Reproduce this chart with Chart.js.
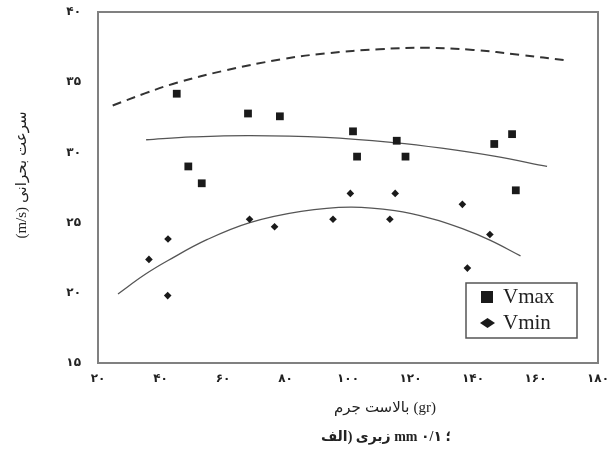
<!DOCTYPE html>
<html><head><meta charset="utf-8">
<script src="https://cdn.jsdelivr.net/npm/chart.js@4/dist/chart.umd.min.js"></script>
<style>html,body{margin:0;padding:0;background:#fff}#wrap{width:613px;height:452px}</style>
</head><body><div id="wrap"><canvas id="c" width="613" height="452"></canvas></div>
<script>
// measured points
const vmaxX = [45.2, 48.9, 53.2, 68.0, 78.2, 101.6, 102.9, 115.6, 118.4, 146.8, 152.5, 153.7];
const vmaxY = [34.18, 29.0, 27.8, 32.77, 32.57, 31.5, 29.7, 30.83, 29.7, 30.6, 31.3, 27.3];
const vminX = [36.3, 42.4, 42.3, 68.5, 76.5, 95.2, 100.75, 113.4, 115.1, 136.6, 138.2, 145.4];
const vminY = [22.38, 23.83, 19.8, 25.24, 24.7, 25.24, 27.08, 25.24, 27.08, 26.3, 21.76, 24.15];
// curves
const upperX = [24.7, 35, 45.2, 60, 78.6, 92.8, 110, 125, 140, 155, 170];
const upperY = [33.34, 34.2, 34.96, 35.8, 36.63, 37.05, 37.35, 37.45, 37.3, 36.95, 36.55];
const fitMaxX = [35.4, 50, 68.6, 92.8, 114.7, 130, 146.8, 163.7];
const fitMaxY = [30.9, 31.1, 31.2, 31.07, 30.7, 30.3, 29.73, 29.0];
const fitMinX = [26.4, 35, 42.4, 55, 68.6, 85, 100.75, 115, 127, 136.6, 145.4, 155.2];
const fitMinY = [19.92, 21.3, 22.3, 23.8, 25.0, 25.8, 26.1, 25.85, 25.27, 24.57, 23.75, 22.63];
// ticks
const xTickValues = [20, 40, 60, 80, 100, 120, 140, 160, 180];
const xTickLabels = ['۲۰', '۴۰', '۶۰', '۸۰', '۱۰۰', '۱۲۰', '۱۴۰', '۱۶۰', '۱۸۰'];
const yTickValues = [15, 20, 25, 30, 35, 40];
const yTickLabels = ['۱۵', '۲۰', '۲۵', '۳۰', '۳۵', '۴۰'];
const seriesNames = ['Vmax', 'Vmin'];
// text pieces in visual left-to-right order
const yTitlePieces = ['(m/s)', 'بحرانی', 'سرعت'];
const xTitlePieces = ['جرم', 'بالاست', '(gr)'];
const captionPieces = ['الف', ')', ' ', 'زبری', ' ', 'mm', ' ', '۰/۱', ' ', '؛'];

const zip = (xs, ys) => xs.map((x, i) => ({x, y: ys[i]}));
const serif = "'Liberation Serif', 'DejaVu Sans', serif";

function drawPieces(ctx, pieces, cx, cy, gap) {
  const widths = pieces.map(p => ctx.measureText(p).width);
  const total = widths.reduce((a, b) => a + b, 0) + gap * (pieces.length - 1);
  let x = cx - total / 2;
  pieces.forEach((p, i) => { ctx.fillText(p, x, cy); x += widths[i] + gap; });
}

const framePlugin = {
  id: 'frame',
  afterDraw(chart) {
    const {ctx, chartArea: a} = chart;
    ctx.save();
    ctx.strokeStyle = '#808080';
    ctx.lineWidth = 2;
    ctx.strokeRect(a.left, a.top, a.right - a.left, a.bottom - a.top);
    // legend box
    ctx.strokeStyle = '#555';
    ctx.lineWidth = 1.5;
    ctx.fillStyle = '#fff';
    ctx.fillRect(466, 283, 111, 55);
    ctx.strokeRect(466, 283, 111, 55);
    ctx.fillStyle = '#1a1a1a';
    ctx.fillRect(481, 291, 12, 12);
    ctx.beginPath();
    ctx.moveTo(480, 323); ctx.lineTo(487.5, 318); ctx.lineTo(495, 323); ctx.lineTo(487.5, 328); ctx.closePath();
    ctx.fill();
    ctx.fillStyle = '#222';
    ctx.font = "21px " + serif;
    ctx.textBaseline = 'middle';
    ctx.textAlign = 'left';
    ctx.direction = 'ltr';
    ctx.fillText(seriesNames[0], 503, 297);
    ctx.fillText(seriesNames[1], 503, 323);
    // x title
    ctx.font = "15px " + serif;
    drawPieces(ctx, xTitlePieces, 385, 408, 4);
    // caption
    ctx.font = "bold 14px " + serif;
    drawPieces(ctx, captionPieces, 386, 437, 0);
    // y title (rotated)
    ctx.translate(22, 175);
    ctx.rotate(-Math.PI / 2);
    ctx.font = "15px " + serif;
    drawPieces(ctx, yTitlePieces, 0, 0, 4);
    ctx.restore();
  }
};

new Chart(document.getElementById('c'), {
  type: 'scatter',
  data: {
    datasets: [
      {label: seriesNames[0], data: zip(vmaxX, vmaxY), pointStyle: 'rect', pointRadius: 5.5, backgroundColor: '#1a1a1a', borderColor: '#1a1a1a', borderWidth: 0},
      {label: seriesNames[1], data: zip(vminX, vminY), pointStyle: 'rectRot', pointRadius: 3.8, backgroundColor: '#1a1a1a', borderColor: '#1a1a1a', borderWidth: 0},
      {label: 'upper', data: zip(upperX, upperY), showLine: true, pointRadius: 0, borderColor: '#333', borderWidth: 2, borderDash: [9, 6], tension: 0.4, fill: false},
      {label: 'fitMax', data: zip(fitMaxX, fitMaxY), showLine: true, pointRadius: 0, borderColor: '#555', borderWidth: 1.3, tension: 0.4, fill: false},
      {label: 'fitMin', data: zip(fitMinX, fitMinY), showLine: true, pointRadius: 0, borderColor: '#555', borderWidth: 1.3, tension: 0.4, fill: false}
    ]
  },
  options: {
    responsive: false,
    devicePixelRatio: 1,
    animation: false,
    layout: {padding: {left: 0, right: 15, top: 12, bottom: 0}},
    plugins: {legend: {display: false}, tooltip: {enabled: false}},
    scales: {
      x: {
        type: 'linear', min: 20, max: 180,
        afterBuildTicks: s => { s.ticks = xTickValues.map(v => ({value: v})); },
        afterFit: s => { s.height = 89; s.paddingLeft = 0; s.paddingRight = 0; },
        grid: {display: false, drawTicks: false},
        border: {display: false},
        ticks: {padding: 9, color: '#222', font: {family: "'DejaVu Sans'", size: 12, weight: 'bold'}, maxRotation: 0,
          callback: v => xTickLabels[xTickValues.indexOf(v)]}
      },
      y: {
        type: 'linear', min: 15, max: 40,
        afterBuildTicks: s => { s.ticks = yTickValues.map(v => ({value: v})); },
        afterFit: s => { s.width = 98; s.paddingTop = 0; s.paddingBottom = 0; },
        grid: {display: false, drawTicks: false},
        border: {display: false},
        ticks: {padding: 17, color: '#222', font: {family: "'DejaVu Sans'", size: 12, weight: 'bold'},
          callback: v => yTickLabels[yTickValues.indexOf(v)]}
      }
    }
  },
  plugins: [framePlugin]
});
</script></body></html>
